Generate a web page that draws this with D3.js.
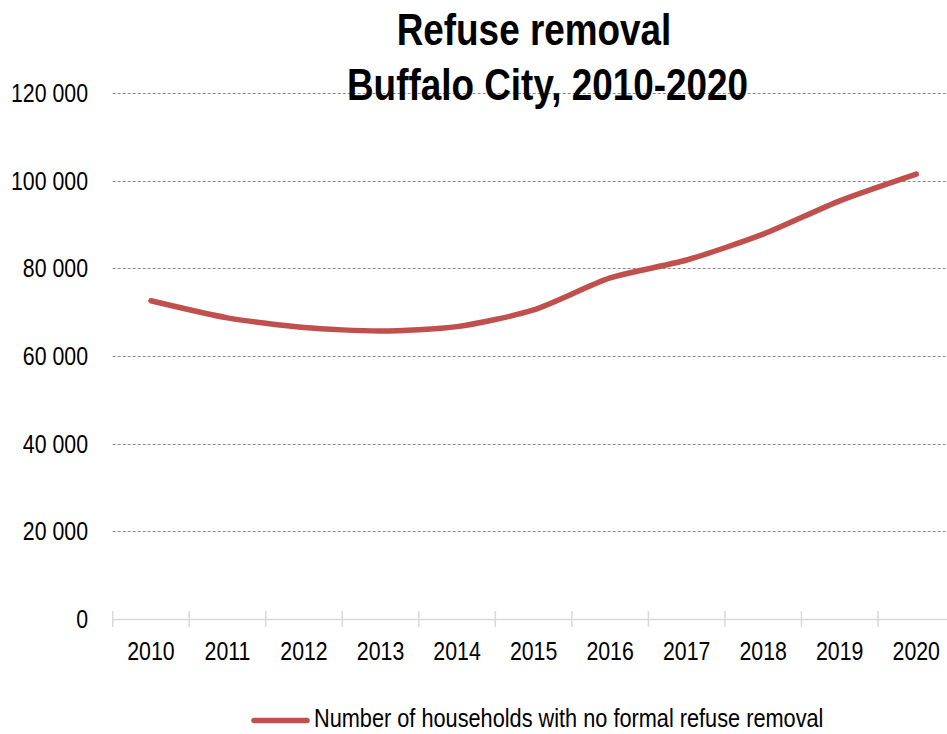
<!DOCTYPE html>
<html>
<head>
<meta charset="utf-8">
<script src="https://cdn.jsdelivr.net/npm/d3@7"></script>
<style>
  html, body { margin: 0; padding: 0; background: #fff; overflow: hidden; }
  svg { display: block; }
</style>
</head>
<body>
<div id="canvas"></div>
<script>
// DATA ========================================================================

var YEARS = ["2010", "2011", "2012", "2013", "2014", "2015", "2016", "2017", "2018", "2019", "2020"]

var HOUSEHOLDS = [72600, 68700, 66500, 65700, 66700, 70500, 77800, 81900, 87800, 95400, 101500]

var Y_TICKS = [0, 20000, 40000, 60000, 80000, 100000, 120000]

var TITLE = ["Refuse removal", "Buffalo City, 2010-2020"]

var LEGEND = "Number of households with no formal refuse removal"

// SETTINGS ====================================================================

var WIDTH = 947
var HEIGHT = 734
var FONT = "'Liberation Sans', Arial, sans-serif"
var NARROW = 0.82
var LINE_COLOR = "#C0504D"

var PLOT = { "left": 112.7, "right": 954.5, "top": 93, "bottom": 619 }

// SVG GENERATOR ===============================================================

var svg = d3.select("#canvas").append("svg")
    .attr("width", WIDTH)
    .attr("height", HEIGHT)

var x = d3.scaleBand().domain(YEARS).range([PLOT.left, PLOT.right])
var y = d3.scaleLinear().domain([0, 120000]).range([PLOT.bottom, PLOT.top])

// Gridlines.
svg.append("g")
    .selectAll("line")
    .data(Y_TICKS.filter(d => d > 0)).enter()
    .append("line")
        .attr("x1", PLOT.left)
        .attr("x2", WIDTH)
        .attr("y1", d => Math.round(y(d)) + 0.5)
        .attr("y2", d => Math.round(y(d)) + 0.5)
        .attr("stroke", "#8c8c8c")
        .attr("stroke-width", 1)
        .attr("stroke-dasharray", "3,2")

// Y axis labels.
svg.append("g")
    .selectAll("g")
    .data(Y_TICKS).enter()
    .append("g")
        .attr("transform", d => narrow(88, y(d)))
        .append("text")
            .attr("dy", "0.35em")
            .attr("text-anchor", "end")
            .attr("font-family", FONT)
            .attr("font-size", "26px")
            .attr("fill", "#000")
            .text(d => d3.format(",")(d).replace(/,/g, " "))

// X axis line and ticks.
var ax = svg.append("g")
ax.append("line")
    .attr("x1", PLOT.left).attr("x2", WIDTH)
    .attr("y1", PLOT.bottom + 0.5).attr("y2", PLOT.bottom + 0.5)
    .attr("stroke", "#d9d9d9")
    .attr("stroke-width", 1.5)
ax.selectAll("line.tick")
    .data(YEARS).enter()
    .append("line")
        .attr("class", "tick")
        .attr("x1", d => x(d)).attr("x2", d => x(d))
        .attr("y1", PLOT.bottom - 8).attr("y2", PLOT.bottom + 8)
        .attr("stroke", "#d9d9d9")
        .attr("stroke-width", 1.5)
ax.selectAll("g")
    .data(YEARS).enter()
    .append("g")
        .attr("transform", d => narrow(x(d) + x.bandwidth()/2, 660))
        .append("text")
            .attr("text-anchor", "middle")
            .attr("font-family", FONT)
            .attr("font-size", "26px")
            .attr("fill", "#000")
            .text(d => d)

// Data line.
var line = d3.line()
    .x((d, i) => x(YEARS[i]) + x.bandwidth()/2)
    .y(d => y(d))
    .curve(d3.curveCardinal.tension(0.3))

svg.append("path")
    .datum(HOUSEHOLDS)
    .attr("d", line)
    .attr("fill", "none")
    .attr("stroke", LINE_COLOR)
    .attr("stroke-width", 5.5)
    .attr("stroke-linecap", "round")
    .attr("stroke-linejoin", "round")

// Title.
var TITLE_X = [534, 547.5]
svg.append("g")
    .selectAll("g")
    .data(TITLE).enter()
    .append("g")
        .attr("transform", (d, i) => narrow(TITLE_X[i], 45 + i*55))
        .append("text")
            .attr("text-anchor", "middle")
            .attr("font-family", FONT)
            .attr("font-weight", "bold")
            .attr("font-size", "45px")
            .attr("fill", "#000")
            .text(d => d)

// Legend.
var lg = svg.append("g")
lg.append("line")
    .attr("x1", 254).attr("x2", 307)
    .attr("y1", 720.5).attr("y2", 720.5)
    .attr("stroke", LINE_COLOR)
    .attr("stroke-width", 5.5)
    .attr("stroke-linecap", "round")
lg.append("g")
    .attr("transform", narrow(314, 727))
    .append("text")
        .attr("font-family", FONT)
        .attr("font-size", "26.5px")
        .attr("fill", "#000")
        .text(LEGEND)

// -----------------------------------------------------------------------------

function narrow(x, y) {
    return "translate(" + x + "," + y + ") scale(" + NARROW + ",1)"
}
</script>
</body>
</html>
